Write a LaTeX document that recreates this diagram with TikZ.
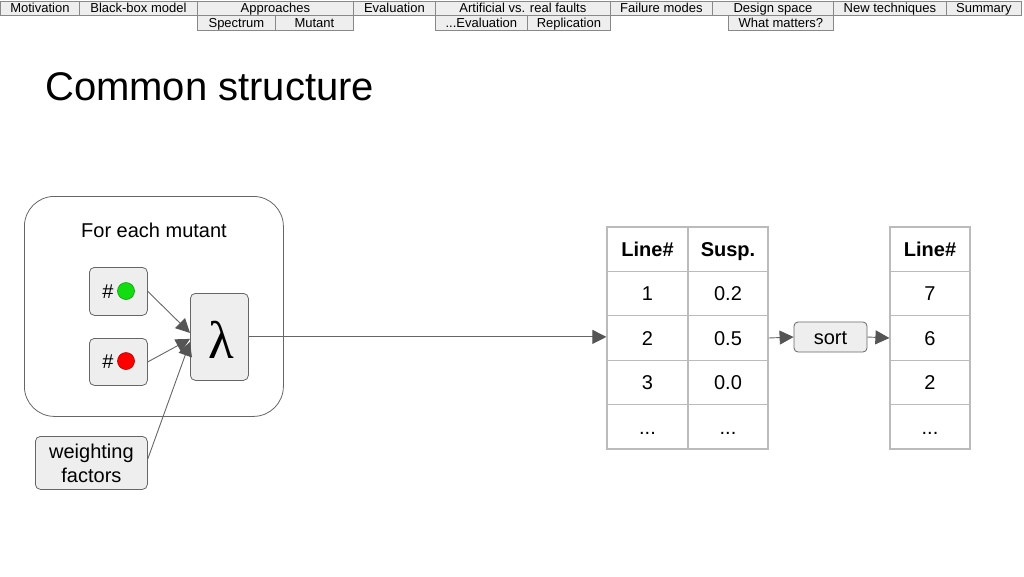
\documentclass[tikz,border=0pt]{standalone}
\usepackage{fontspec}
\setmainfont{Liberation Sans}
\newfontfamily\lamfont{Liberation Serif}
\usetikzlibrary{arrows.meta}
\definecolor{boxfill}{HTML}{EEEEEE}
\definecolor{boxline}{HTML}{666666}
\definecolor{navline}{HTML}{888888}
\definecolor{tabline}{HTML}{BBBBBB}
\definecolor{arrowc}{HTML}{666666}
\definecolor{tipc}{HTML}{555555}
\definecolor{dotgreen}{HTML}{11DD11}
\definecolor{dotgreenb}{HTML}{119911}
\definecolor{dotred}{HTML}{FF0000}
\definecolor{dotredb}{HTML}{AA0000}
\begin{document}
\begin{tikzpicture}[x=1pt,y=-1pt,
  big/.style={font=\fontsize{20}{20}\selectfont, text height=14.4pt, text depth=0pt},
  nav/.style={draw=navline, fill=boxfill, line width=0.8pt, inner sep=0pt, minimum height=14.5pt, font=\fontsize{13}{13}\selectfont, text height=9.4pt, text depth=0pt, anchor=north west},
  gbox/.style={draw=boxline, fill=boxfill, line width=0.8pt, rounded corners=5pt, anchor=north west, inner sep=0pt},
  cell/.style={draw=tabline, line width=1.2pt, minimum height=44.4pt, inner sep=0pt, big},
  arr/.style={draw=arrowc, line width=0.9pt, -{Triangle[length=14pt,width=14pt,color=tipc]}},
]
\useasboundingbox (0,0) rectangle (1024,576);
% navigation
\node[nav, minimum width=79pt] (n1) at (0,0.5) {Motivation};
\node[nav, minimum width=118pt] (n2) at (79,0.5) {Black-box model};
\node[nav, minimum width=156pt] (n3) at (197,0.5) {Approaches};
\node[nav, minimum width=82pt] (n4) at (353,0.5) {Evaluation};
\node[nav, minimum width=175pt] (n5) at (435,0.5) {Artificial vs. real faults};
\node[nav, minimum width=102pt] (n6) at (610,0.5) {Failure modes};
\node[nav, minimum width=121pt] (n7) at (712,0.5) {Design space};
\node[nav, minimum width=113pt] (n8) at (833,0.5) {New techniques};
\node[nav, minimum width=75pt] (n9) at (946,0.5) {Summary};
\node[nav, minimum width=78pt] (s1) at (197,15) {Spectrum};
\node[nav, minimum width=78pt] (s2) at (275,15) {Mutant};
\node[nav, minimum width=92pt] (s3) at (435,15) {...Evaluation};
\node[nav, minimum width=83pt] (s4) at (527,15) {Replication};
\node[nav, minimum width=105pt] (s5) at (728,15) {What matters?};
% title
\node[anchor=base west, inner sep=0pt, font=\fontsize{40}{40}\selectfont] (title) at (45,100) {Common structure};
% outer box
\node[draw=boxline, line width=0.8pt, rounded corners=30pt, minimum width=259pt, minimum height=220pt, anchor=north west] (outer) at (24,196) {};
\node[big, inner sep=0pt] (fem) at (154,230) {For each mutant};
% inputs
\node[gbox, minimum width=58pt, minimum height=48pt] (gb) at (89,267) {};
\node[big, inner sep=0pt] (gh) at (108,291) {\#};
\node[circle, fill=dotgreen, draw=dotgreenb, line width=0.6pt, minimum size=17pt, inner sep=0pt] (gd) at (126,291) {};
\node[gbox, minimum width=58pt, minimum height=47pt] (rb) at (89,338) {};
\node[big, inner sep=0pt] (rh) at (108,361) {\#};
\node[circle, fill=dotred, draw=dotredb, line width=0.6pt, minimum size=17pt, inner sep=0pt] (rd) at (126,361) {};
\node[gbox, minimum width=58pt, minimum height=87pt] (lam) at (190,293) {};
\node[font=\fontsize{53}{53}\lamfont, inner sep=0pt, anchor=base] (lamt) at (221,358) {λ};
\node[gbox, minimum width=112pt, minimum height=53pt, align=center, font=\fontsize{20}{24}\selectfont] (wf) at (35,436) {weighting\\factors};
\draw[arr] (gb.east) -- ([yshift=4pt]lam.west);
\draw[arr] (rb.east) -- ([yshift=-2pt]lam.west);
\draw[arr] ([yshift=4pt]wf.east) -- ([yshift=-5pt]lam.west);
% table 1
\node[cell, minimum width=81pt] (a0) at (647.5,249.2) {\textbf{Line\#}};
\node[cell, minimum width=80pt] (b0) at (728,249.2) {\textbf{Susp.}};
\node[cell, minimum width=81pt] (a1) at (647.5,293.6) {1};
\node[cell, minimum width=80pt] (b1) at (728,293.6) {0.2};
\node[cell, minimum width=81pt] (a2) at (647.5,338) {2};
\node[cell, minimum width=80pt] (b2) at (728,338) {0.5};
\node[cell, minimum width=81pt] (a3) at (647.5,382.4) {3};
\node[cell, minimum width=80pt] (b3) at (728,382.4) {0.0};
\node[cell, minimum width=81pt] (a4) at (647.5,426.8) {...};
\node[cell, minimum width=80pt] (b4) at (728,426.8) {...};
% table 2
\node[cell, minimum width=80pt] (c0) at (930,249.2) {\textbf{Line\#}};
\node[cell, minimum width=80pt] (c1) at (930,293.6) {7};
\node[cell, minimum width=80pt] (c2) at (930,338) {6};
\node[cell, minimum width=80pt] (c3) at (930,382.4) {2};
\node[cell, minimum width=80pt] (c4) at (930,426.8) {...};
% sort
\node[gbox, anchor=center, rounded corners=4pt, minimum width=73pt, minimum height=30pt, big] (sort) at (830.5,337) {sort};
\draw[arr] (lam.east) -- (lam.east -| a2.west);
\draw[arr] (b2.east) -- (sort.west);
\draw[arr] (sort.east) -- (c2.west);
\end{tikzpicture}
\end{document}
